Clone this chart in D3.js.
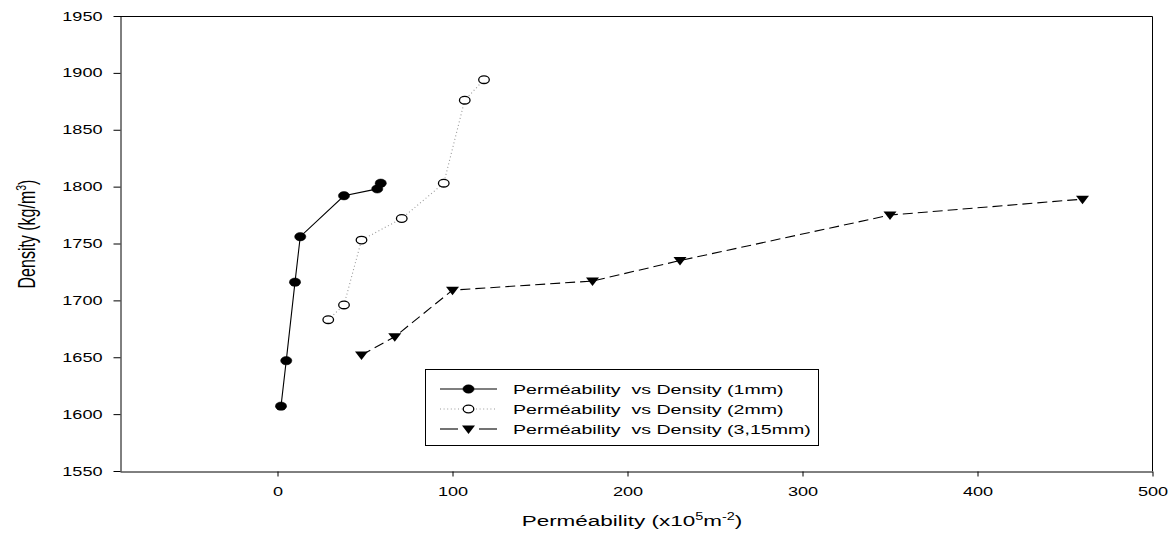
<!DOCTYPE html>
<html>
<head>
<meta charset="utf-8">
<script src="https://cdn.jsdelivr.net/npm/d3@7"></script>
<style>
  body { margin: 0; background: #fff; }
  svg { display: block; font-family: "Liberation Sans", Arial, sans-serif; }
</style>
</head>
<body>
<div id="chart"></div>
<script>
// data
var perm1mm = [2, 5, 10, 13, 38, 57, 59];
var dens1mm = [1607, 1647, 1716, 1756, 1792, 1798, 1803];
var perm2mm = [29, 38, 48, 71, 95, 107, 118];
var dens2mm = [1683, 1696, 1753, 1772, 1803, 1876, 1894];
var perm3mm = [48, 67, 100, 180, 230, 350, 460];
var dens3mm = [1652, 1668, 1709, 1717, 1735, 1775, 1789];

var xTicks = [0, 100, 200, 300, 400, 500];
var yTicks = [1550, 1600, 1650, 1700, 1750, 1800, 1850, 1900, 1950];
var legendLabels = [
  "Perméability  vs Density (1mm)",
  "Perméability  vs Density (2mm)",
  "Perméability  vs Density (3,15mm)"
];

var width = 1172, height = 538;
var plotLeft = 120, plotRight = 1152.5, plotTop = 16, plotBottom = 471;
var sx = 1.45; // the picture is stretched sideways

var svg = d3.select("#chart").append("svg")
  .attr("width", width)
  .attr("height", height);

var x = d3.scaleLinear().domain([-90, 500]).range([plotLeft, plotRight]);
var y = d3.scaleLinear().domain([1550, 1950]).range([plotBottom, plotTop]);

// frame: top and right lines
svg.append("path")
  .attr("d", "M" + plotLeft + "," + (plotTop + 0.5) + "H" + plotRight + "V" + plotBottom)
  .attr("fill", "none")
  .attr("stroke", "#000")
  .attr("stroke-width", 1);

// axes
var gx = svg.append("g")
  .attr("transform", "translate(0," + (plotBottom + 0.5) + ")")
  .call(d3.axisBottom(x).tickValues(xTicks).tickFormat(d3.format("d"))
    .tickSize(5).tickSizeOuter(0).tickPadding(11));
var gy = svg.append("g")
  .attr("transform", "translate(" + (plotLeft + 0.5) + ",0)")
  .call(d3.axisLeft(y).tickValues(yTicks).tickFormat(d3.format("d"))
    .tickSize(7).tickSizeOuter(0).tickPadding(5.4));

[gx, gy].forEach(function(g) {
  g.select(".domain").attr("stroke", "#000");
  g.selectAll(".tick line").attr("stroke", "#000");
  g.selectAll(".tick text")
    .attr("fill", "#000")
    .style("font-size", "12.5px")
    .attr("transform", "scale(" + sx + ",1)");
});

// series
var series = [
  { xs: perm1mm, ys: dens1mm, color: "#000", dash: null, mark: "dot" },
  { xs: perm2mm, ys: dens2mm, color: "#999", dash: "1,2.6", mark: "ring" },
  { xs: perm3mm, ys: dens3mm, color: "#000", dash: "10,5", mark: "tri" }
];

var line = d3.line()
  .x(function(d) { return x(d[0]); })
  .y(function(d) { return y(d[1]); });

function drawMark(g, kind, cx, cy) {
  if (kind === "tri") {
    g.append("path")
      .attr("d", "M" + (cx - 6.5) + "," + (cy - 3.5) + "L" + (cx + 6.5) + "," + (cy - 3.5) + "L" + cx + "," + (cy + 5) + "Z")
      .attr("fill", "#000");
  } else {
    g.append("ellipse")
      .attr("cx", cx).attr("cy", cy)
      .attr("rx", kind === "dot" ? 5.6 : 5.3)
      .attr("ry", kind === "dot" ? 4.2 : 3.8)
      .attr("fill", kind === "dot" ? "#000" : "#fff")
      .attr("stroke", "#000")
      .attr("stroke-width", kind === "dot" ? 0.5 : 1.3);
  }
}

series.forEach(function(s) {
  var pts = s.xs.map(function(v, i) { return [v, s.ys[i]]; });
  var g = svg.append("g");
  g.append("path")
    .attr("d", line(pts))
    .attr("fill", "none")
    .attr("stroke", s.color)
    .attr("stroke-width", 1.1)
    .attr("stroke-dasharray", s.dash);
  pts.forEach(function(p) { drawMark(g, s.mark, x(p[0]), y(p[1])); });
});

// legend
var lg = svg.append("g");
lg.append("rect")
  .attr("x", 425.5).attr("y", 369.5)
  .attr("width", 393).attr("height", 76)
  .attr("fill", "#fff").attr("stroke", "#000").attr("stroke-width", 1);

legendLabels.forEach(function(lab, i) {
  var ly = 389 + i * 20;
  if (series[i].mark === "tri") {
    // dashed sample: one dash either side of the marker
    [[440, 458], [479, 497]].forEach(function(seg) {
      lg.append("line")
        .attr("x1", seg[0]).attr("x2", seg[1]).attr("y1", ly).attr("y2", ly)
        .attr("stroke", "#000").attr("stroke-width", 1.1);
    });
  } else {
    lg.append("line")
      .attr("x1", 440).attr("x2", 497).attr("y1", ly).attr("y2", ly)
      .attr("stroke", series[i].color)
      .attr("stroke-width", 1.1)
      .attr("stroke-dasharray", series[i].dash);
  }
  drawMark(lg, series[i].mark, 468.5, ly);
  lg.append("text")
    .attr("transform", "translate(513," + ly + ") scale(" + sx + ",1)")
    .attr("dy", "0.36em")
    .style("font-size", "13.5px")
    .style("white-space", "pre")
    .attr("xml:space", "preserve")
    .text(lab);
});

// axis titles
var xt = svg.append("text")
  .attr("transform", "translate(632,526) scale(" + sx + ",1)")
  .attr("text-anchor", "middle")
  .style("font-size", "15.5px");
xt.append("tspan").text("Perméability (x10");
xt.append("tspan").attr("dy", -6).style("font-size", "10px").text("5");
xt.append("tspan").attr("dy", 6).text("m");
xt.append("tspan").attr("dy", -6).style("font-size", "10px").text("-2");
xt.append("tspan").attr("dy", 6).text(")");

var yt = svg.append("text")
  .attr("transform", "translate(35,234) scale(" + sx + ",1) rotate(-90)")
  .attr("text-anchor", "middle")
  .style("font-size", "16px");
yt.append("tspan").text("Density (kg/m");
yt.append("tspan").attr("dy", -6).style("font-size", "10.5px").text("3");
yt.append("tspan").attr("dy", 6).text(")");
</script>
</body>
</html>
